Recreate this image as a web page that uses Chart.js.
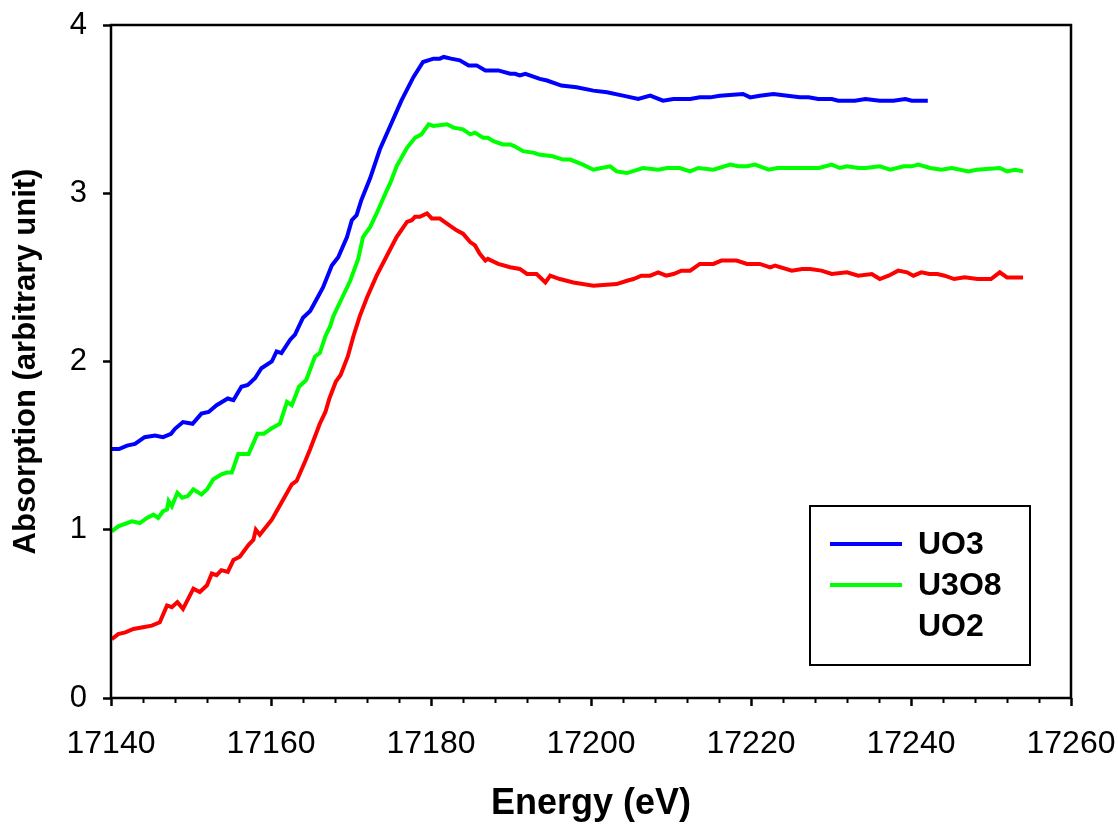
<!DOCTYPE html>
<html>
<head>
<meta charset="utf-8">
<title>U L3-edge XANES</title>
<script src="https://cdn.jsdelivr.net/npm/chart.js@4/dist/chart.umd.min.js"></script>
<style>
  html, body { margin: 0; padding: 0; background: #fff; }
  #wrap { width: 1118px; height: 829px; position: relative; }
</style>
</head>
<body>
<div id="wrap"><canvas id="xanes"></canvas></div>
<script>
// ---- spectra (energy in eV, absorption in arbitrary units) ----
const xTicks = [17140, 17160, 17180, 17200, 17220, 17240, 17260];
const yTicks = [0, 1, 2, 3, 4];
const seriesNames = ['UO3', 'U3O8', 'UO2'];

const uo3Energy = [17140.0, 17141.0, 17142.0, 17143.0, 17144.2, 17145.5, 17146.5, 17147.5, 17148.0, 17149.0,
  17150.2, 17151.3, 17152.2, 17153.2, 17154.6, 17155.3, 17156.3, 17157.1, 17158.0, 17158.8,
  17160.1, 17160.7, 17161.3, 17162.4, 17163.0, 17164.0, 17164.9, 17165.7, 17166.5, 17167.6,
  17168.4, 17169.5, 17170.1, 17170.7, 17171.3, 17172.4, 17173.6, 17174.9, 17176.3, 17177.8,
  17179.0, 17180.3, 17181.1, 17181.6, 17182.5, 17183.6, 17184.7, 17185.7, 17186.8, 17188.4,
  17189.9, 17190.5, 17191.1, 17191.8, 17193.6, 17194.5, 17196.3, 17198.2, 17200.3, 17202.0,
  17204.0, 17205.9, 17207.4, 17209.0, 17210.3, 17212.4, 17213.6, 17214.9, 17216.1, 17219.0,
  17219.9, 17221.1, 17222.8, 17226.1, 17227.2, 17228.4, 17230.1, 17230.9, 17232.0, 17233.0,
  17234.3, 17236.1, 17237.8, 17239.3, 17240.1, 17242.1];
const uo3Abs = [1.48, 1.48, 1.50, 1.51, 1.55, 1.56, 1.55, 1.57, 1.60, 1.64,
  1.63, 1.69, 1.70, 1.74, 1.78, 1.77, 1.85, 1.86, 1.90, 1.96,
  2.00, 2.06, 2.05, 2.13, 2.16, 2.26, 2.30, 2.37, 2.44, 2.57,
  2.62, 2.74, 2.84, 2.87, 2.96, 3.09, 3.26, 3.40, 3.55, 3.69,
  3.78, 3.80, 3.80, 3.81, 3.80, 3.79, 3.76, 3.76, 3.73, 3.73,
  3.71, 3.71, 3.70, 3.71, 3.68, 3.67, 3.64, 3.63, 3.61, 3.60,
  3.58, 3.56, 3.58, 3.55, 3.56, 3.56, 3.57, 3.57, 3.58, 3.59,
  3.57, 3.58, 3.59, 3.57, 3.57, 3.56, 3.56, 3.55, 3.55, 3.55,
  3.56, 3.55, 3.55, 3.56, 3.55, 3.55];

const u3o8Energy = [17140.1, 17140.9, 17142.6, 17143.6, 17144.5, 17145.3, 17145.9, 17146.5, 17147.0, 17147.2,
  17147.6, 17148.3, 17148.9, 17149.6, 17150.3, 17151.3, 17152.0, 17152.8, 17153.8, 17154.5,
  17155.1, 17155.9, 17157.2, 17158.3, 17159.1, 17160.0, 17160.7, 17161.1, 17162.0, 17162.6,
  17163.5, 17164.4, 17165.5, 17166.1, 17166.8, 17167.4, 17167.8, 17168.8, 17169.9, 17170.9,
  17171.5, 17172.4, 17173.2, 17174.5, 17174.9, 17175.7, 17177.0, 17178.0, 17178.8, 17179.7,
  17180.3, 17182.0, 17182.8, 17184.0, 17184.9, 17185.5, 17186.5, 17187.1, 17187.8, 17189.0,
  17189.9, 17190.4, 17191.5, 17192.9, 17193.5, 17195.2, 17196.5, 17197.4, 17199.0, 17200.3,
  17201.3, 17202.4, 17203.2, 17204.5, 17206.5, 17208.4, 17209.5, 17211.1, 17212.4, 17213.4,
  17215.3, 17217.4, 17218.4, 17219.5, 17220.5, 17222.2, 17223.3, 17225.4, 17227.1, 17228.5,
  17230.1, 17231.1, 17232.0, 17233.4, 17234.3, 17236.1, 17237.4, 17239.1, 17240.1, 17240.9,
  17242.4, 17243.8, 17245.1, 17247.2, 17248.2, 17251.1, 17252.0, 17253.0, 17254.0];
const u3o8Abs = [0.99, 1.02, 1.05, 1.04, 1.07, 1.09, 1.07, 1.11, 1.12, 1.17,
  1.14, 1.22, 1.19, 1.20, 1.24, 1.21, 1.24, 1.30, 1.33, 1.34,
  1.34, 1.45, 1.45, 1.57, 1.57, 1.60, 1.62, 1.63, 1.76, 1.74,
  1.85, 1.89, 2.03, 2.05, 2.15, 2.21, 2.27, 2.37, 2.48, 2.61,
  2.74, 2.80, 2.88, 3.02, 3.06, 3.16, 3.27, 3.33, 3.35, 3.41,
  3.40, 3.41, 3.39, 3.38, 3.35, 3.36, 3.33, 3.33, 3.31, 3.29,
  3.29, 3.28, 3.25, 3.24, 3.23, 3.22, 3.20, 3.20, 3.17, 3.14,
  3.15, 3.16, 3.13, 3.12, 3.15, 3.14, 3.15, 3.15, 3.13, 3.15,
  3.14, 3.17, 3.16, 3.16, 3.17, 3.14, 3.15, 3.15, 3.15, 3.15,
  3.17, 3.15, 3.16, 3.15, 3.15, 3.16, 3.14, 3.16, 3.16, 3.17,
  3.15, 3.14, 3.15, 3.13, 3.14, 3.15, 3.13, 3.14, 3.13];

const uo2Energy = [17140.1, 17140.9, 17141.8, 17142.8, 17144.0, 17145.1, 17146.1, 17147.0, 17147.6, 17148.3,
  17149.0, 17150.3, 17151.1, 17152.0, 17152.6, 17153.2, 17153.8, 17154.6, 17155.3, 17156.1,
  17157.2, 17157.8, 17158.1, 17158.6, 17160.1, 17161.3, 17162.6, 17163.2, 17164.3, 17164.9,
  17166.1, 17166.8, 17167.3, 17168.1, 17168.7, 17169.6, 17170.3, 17171.1, 17172.0, 17173.2,
  17174.5, 17175.7, 17177.0, 17177.6, 17178.0, 17178.6, 17179.5, 17180.1, 17181.1, 17182.0,
  17183.2, 17184.0, 17184.9, 17185.5, 17186.1, 17186.8, 17187.1, 17188.4, 17189.9, 17191.1,
  17192.0, 17193.2, 17194.3, 17194.9, 17196.1, 17197.8, 17200.3, 17203.2, 17204.5, 17205.3,
  17206.3, 17207.4, 17208.4, 17209.4, 17210.3, 17211.3, 17212.4, 17213.6, 17215.3, 17216.3,
  17218.2, 17219.5, 17221.1, 17222.4, 17223.0, 17225.1, 17226.4, 17227.4, 17228.8, 17230.1,
  17232.0, 17233.4, 17235.1, 17236.1, 17237.2, 17238.4, 17239.5, 17240.3, 17241.3, 17242.3,
  17243.3, 17244.2, 17245.4, 17246.7, 17248.3, 17250.0, 17251.1, 17252.0, 17254.0];
const uo2Abs = [0.35, 0.38, 0.39, 0.41, 0.42, 0.43, 0.45, 0.55, 0.54, 0.57,
  0.53, 0.65, 0.63, 0.67, 0.74, 0.73, 0.76, 0.75, 0.82, 0.84,
  0.91, 0.94, 1.00, 0.97, 1.06, 1.16, 1.27, 1.29, 1.41, 1.48,
  1.63, 1.70, 1.78, 1.88, 1.92, 2.03, 2.15, 2.27, 2.38, 2.51,
  2.63, 2.74, 2.83, 2.84, 2.86, 2.86, 2.88, 2.85, 2.85, 2.82,
  2.78, 2.76, 2.71, 2.69, 2.64, 2.60, 2.61, 2.58, 2.56, 2.55,
  2.52, 2.52, 2.47, 2.51, 2.49, 2.47, 2.45, 2.46, 2.48, 2.49,
  2.51, 2.51, 2.53, 2.51, 2.52, 2.54, 2.54, 2.58, 2.58, 2.60,
  2.60, 2.58, 2.58, 2.56, 2.57, 2.54, 2.55, 2.55, 2.54, 2.52,
  2.53, 2.51, 2.52, 2.49, 2.51, 2.54, 2.53, 2.51, 2.53, 2.52,
  2.52, 2.51, 2.49, 2.50, 2.49, 2.49, 2.53, 2.50, 2.50];

const FONT = '"Liberation Sans", Arial, Helvetica, sans-serif';

const toPoints = (xs, ys) => xs.map((x, i) => ({ x, y: ys[i] }));

// black box round the plot area
const frame = {
  id: 'frame',
  afterDatasetsDraw(chart) {
    const { ctx, chartArea: a } = chart;
    ctx.save();
    ctx.strokeStyle = '#000';
    ctx.lineWidth = 2.5;
    ctx.strokeRect(a.left, a.top, a.right - a.left, a.bottom - a.top);
    ctx.restore();
  }
};

// short minor ticks under the x axis every 4 eV
const minorTicks = {
  id: 'minorTicks',
  afterDraw(chart) {
    const { ctx, chartArea: a, scales: { x } } = chart;
    ctx.save();
    ctx.strokeStyle = '#000';
    ctx.lineWidth = 2;
    for (let e = x.min; e <= x.max; e += 4) {
      if ((e - x.min) % 20 === 0) continue;
      const px = Math.round(x.getPixelForValue(e)) + 0.5;
      ctx.beginPath();
      ctx.moveTo(px, a.bottom);
      ctx.lineTo(px, a.bottom + 5);
      ctx.stroke();
    }
    ctx.restore();
  }
};

// boxed legend inside the plot; UO2 is listed without a line sample
const boxLegend = {
  id: 'boxLegend',
  afterDraw(chart, args, opts) {
    const { ctx } = chart;
    const b = opts.box;
    ctx.save();
    ctx.fillStyle = '#fff';
    ctx.fillRect(b.x, b.y, b.w, b.h);
    ctx.strokeStyle = '#000';
    ctx.lineWidth = 2;
    ctx.strokeRect(b.x, b.y, b.w, b.h);
    ctx.font = 'bold 32px ' + FONT;
    ctx.textBaseline = 'middle';
    chart.data.datasets.forEach((ds, i) => {
      const y = b.y + opts.firstRow + i * opts.rowGap;
      if (ds.legendLine) {
        ctx.strokeStyle = ds.borderColor;
        ctx.lineWidth = 4;
        ctx.beginPath();
        ctx.moveTo(b.x + 20, y);
        ctx.lineTo(b.x + 92, y);
        ctx.stroke();
      }
      ctx.fillStyle = '#000';
      ctx.fillText(ds.label, b.x + 108, y + 1);
    });
    ctx.restore();
  }
};

new Chart(document.getElementById('xanes'), {
  type: 'line',
  data: {
    datasets: [
      { label: seriesNames[0], data: toPoints(uo3Energy, uo3Abs), borderColor: '#0000ff', legendLine: true },
      { label: seriesNames[1], data: toPoints(u3o8Energy, u3o8Abs), borderColor: '#00ff00', legendLine: true },
      { label: seriesNames[2], data: toPoints(uo2Energy, uo2Abs), borderColor: '#ff0000', legendLine: false },
    ].map(d => Object.assign(d, { borderWidth: 4, pointRadius: 0, tension: 0, fill: false }))
  },
  options: {
    responsive: true,
    maintainAspectRatio: false,
    animation: false,
    layout: { padding: { top: 25, right: 47, left: 0, bottom: 0 } },
    scales: {
      x: {
        type: 'linear',
        min: xTicks[0],
        max: xTicks[xTicks.length - 1],
        afterBuildTicks: s => { s.ticks = xTicks.map(v => ({ value: v })); },
        // fixed band under the plot; no extra room for the end labels
        afterFit: s => { s.height = 131; s.paddingLeft = 0; s.paddingRight = 0; },
        border: { display: false },
        grid: { drawOnChartArea: false, drawTicks: true, tickLength: 8, tickWidth: 2.5, tickColor: '#000' },
        ticks: { color: '#000', font: { family: FONT, size: 32 }, padding: 19, maxRotation: 0, callback: v => String(v) },
        title: { display: true, text: 'Energy (eV)', color: '#000', font: { family: FONT, size: 36, weight: 'bold' }, padding: { top: 0, bottom: 3 } }
      },
      y: {
        min: yTicks[0],
        max: yTicks[yTicks.length - 1],
        afterBuildTicks: s => { s.ticks = yTicks.map(v => ({ value: v })); },
        afterFit: s => { s.width = 111; s.paddingTop = 0; s.paddingBottom = 0; },
        border: { display: false },
        grid: { drawOnChartArea: false, drawTicks: true, tickLength: 8, tickWidth: 2.5, tickColor: '#000' },
        ticks: { color: '#000', font: { family: FONT, size: 31 }, padding: 16 },
        title: { display: true, text: 'Absorption (arbitrary unit)', color: '#000', font: { family: FONT, size: 31, weight: 'bold' }, padding: { top: 8, bottom: 0 } }
      }
    },
    plugins: {
      legend: { display: false },
      tooltip: { enabled: false },
      boxLegend: { box: { x: 810, y: 506, w: 220, h: 159 }, firstRow: 38, rowGap: 41 }
    }
  },
  plugins: [frame, minorTicks, boxLegend]
});
</script>
</body>
</html>
